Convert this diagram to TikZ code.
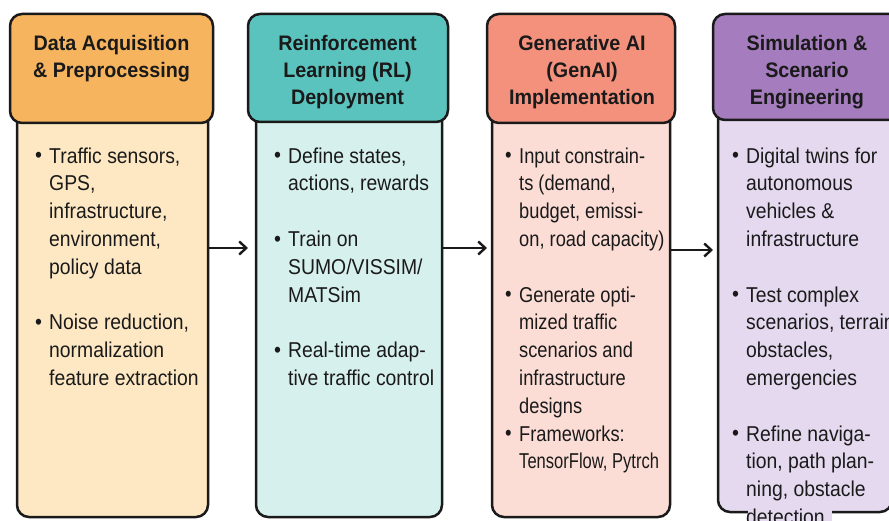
\documentclass[tikz,border=0pt]{standalone}
\usepackage{fontspec}
\setmainfont{Liberation Sans}
\newfontfamily\bodyfont{Liberation Sans}[FakeStretch=0.9]
\newfontfamily\bodyfontn{Liberation Sans}[FakeStretch=0.85]
\newfontfamily\bodyfontxn{Liberation Sans}[FakeStretch=0.77]
\newfontfamily\headfont{Liberation Sans}[FakeStretch=0.94]
\usetikzlibrary{arrows.meta}
\definecolor{ink}{HTML}{1A1A1A}
\definecolor{hA}{HTML}{F6B45E}
\definecolor{bA}{HTML}{FDE8C3}
\definecolor{hB}{HTML}{5BC3BD}
\definecolor{bB}{HTML}{D6F0EE}
\definecolor{hC}{HTML}{F4917D}
\definecolor{bC}{HTML}{FCDDD6}
\definecolor{hD}{HTML}{A57CBE}
\definecolor{bD}{HTML}{E4D9EF}
\newcommand{\bulitem}[1]{\strut\makebox[14pt][l]{\raisebox{0.5pt}{\fontsize{22}{22}\selectfont\textbullet}}#1}
\newcommand{\contline}[1]{\strut\hspace*{14pt}#1}
\begin{document}
\begin{tikzpicture}[x=1pt,y=-1pt,
  boxline/.style={draw=ink, line width=2.5pt, rounded corners=12pt, inner sep=0pt, outer sep=0pt},
  headtext/.style={anchor=north, inner sep=0pt, align=center, text=ink,
     font=\headfont\bfseries\fontsize{21}{27}\selectfont},
  bodytext/.style={anchor=north west, inner sep=0pt, align=left, text=ink,
     font=\bodyfont\fontsize{21.5}{27.8}\selectfont},
  conn/.style={draw=ink, line width=2.4pt, -{Straight Barb[length=7pt,width=13pt,line width=2.4pt]}}]
\useasboundingbox (0,0) rectangle (889,521);
\clip (0,0) rectangle (889,521);
\fill[white] (0,0) rectangle (889,521);

% bodies
\node[boxline, fill=bA, minimum width=191pt, minimum height=417pt] (b1) at (112.5,308.5) {};
\node[boxline, fill=bB, minimum width=186pt, minimum height=417pt] (b2) at (349,308.5) {};
\node[boxline, fill=bC, minimum width=178pt, minimum height=417pt] (b3) at (581,308.5) {};
\node[boxline, fill=bD, minimum width=174pt, minimum height=412pt] (b4) at (805,306) {};
\fill[bD] (748,505) rectangle (832,521);

% headers
\node[boxline, fill=hA, minimum width=203pt, minimum height=109pt] (h1) at (111.5,68.5) {};
\node[boxline, fill=hB, minimum width=200pt, minimum height=108pt] (h2) at (348,68) {};
\node[boxline, fill=hC, minimum width=188pt, minimum height=109pt] (h3) at (581,68.5) {};
\node[boxline, fill=hD, minimum width=200pt, minimum height=106pt] (h4) at (813,67) {};

% header texts
\node[headtext] (ht1) at (111.5,31) {\strut Data Acquisition\\\strut \& Preprocessing};
\node[headtext] (ht2) at (347.5,31) {\strut Reinforcement\\\strut Learning (RL)\\\strut Deployment};
\node[headtext] (ht3) at (582,31) {\strut Generative AI\\\strut (GenAI)\\\strut Implementation};
\node[headtext] (ht4) at (807,31) {\strut Simulation \&\\\strut Scenario\\\strut Engineering};

% body texts
\node[bodytext] (bt1) at (35,143.5) {\bulitem{Traffic sensors,}\\
\contline{GPS,}\\
\contline{infrastructure,}\\
\contline{environment,}\\
\contline{policy data}\\[27.8pt]
\bulitem{Noise reduction,}\\
\contline{normalization}\\
\contline{feature extraction}};

\node[bodytext] (bt2) at (274,143.5) {\bulitem{Define states,}\\
\contline{actions, rewards}\\[27.8pt]
\bulitem{Train on}\\
\contline{SUMO/VISSIM/}\\
\contline{MATSim}\\[27.8pt]
\bulitem{Real-time adap-}\\
\contline{tive traffic control}};

\node[bodytext, font=\bodyfontn\fontsize{21.5}{27.8}\selectfont] (bt3) at (505,143.5) {\bulitem{Input constrain-}\\
\contline{ts (demand,}\\
\contline{budget, emissi-}\\
\contline{on, road capacity)}\\[27.8pt]
\bulitem{Generate opti-}\\
\contline{mized traffic}\\
\contline{scenarios and}\\
\contline{infrastructure}\\
\contline{designs}\\
\bulitem{Frameworks:}\\
\contline{{\bodyfontxn TensorFlow, Pytrch}}};

\node[bodytext] (bt4) at (732,143.5) {\bulitem{Digital twins for}\\
\contline{autonomous}\\
\contline{vehicles \&}\\
\contline{infrastructure}\\[27.8pt]
\bulitem{Test complex}\\
\contline{scenarios, terrain}\\
\contline{obstacles,}\\
\contline{emergencies}\\[27.8pt]
\bulitem{Refine naviga-}\\
\contline{tion, path plan-}\\
\contline{ning, obstacle}\\
\contline{detection}};

% connectors
\coordinate (r1) at (0,248);
\coordinate (r2) at (0,248);
\coordinate (r3) at (0,250);
\draw[conn] (b1.east |- r1) -- (h2.west |- r1);
\draw[conn] (b2.east |- r2) -- (h3.west |- r2);
\draw[conn] (b3.east |- r3) -- (h4.west |- r3);
\end{tikzpicture}
\end{document}
